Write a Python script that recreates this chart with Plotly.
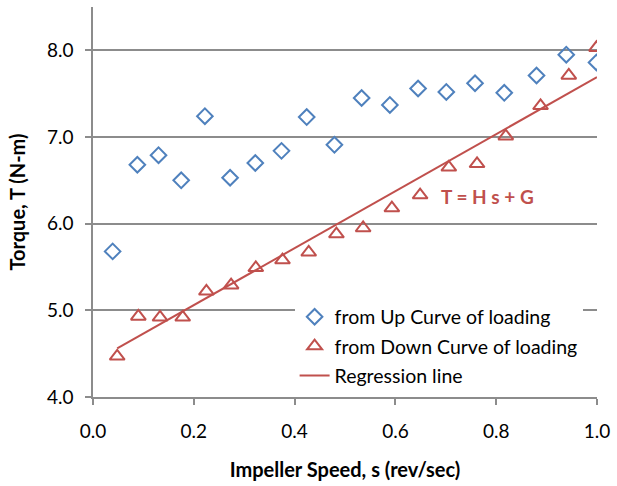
import plotly.graph_objects as go

# Data
up_s = [0.039, 0.088, 0.130, 0.175, 0.222, 0.272, 0.322, 0.374, 0.424, 0.479,
        0.533, 0.589, 0.645, 0.701, 0.758, 0.816, 0.880, 0.939, 0.999]
up_T = [5.68, 6.68, 6.79, 6.50, 7.24, 6.53, 6.70, 6.84, 7.23, 6.91,
        7.45, 7.37, 7.56, 7.52, 7.62, 7.51, 7.71, 7.95, 7.86]

down_s = [0.048, 0.090, 0.133, 0.178, 0.225, 0.274, 0.323, 0.376, 0.428, 0.483,
          0.536, 0.593, 0.649, 0.706, 0.762, 0.819, 0.888, 0.944, 0.999]
down_T = [4.47, 4.93, 4.92, 4.92, 5.22, 5.29, 5.49, 5.58, 5.67, 5.88,
          5.95, 6.18, 6.33, 6.65, 6.69, 7.01, 7.36, 7.71, 8.03]

reg_s = [0.048, 1.0]
reg_T = [4.56, 7.69]

x_ticks = [0.0, 0.2, 0.4, 0.6, 0.8, 1.0]
y_ticks = [4.0, 5.0, 6.0, 7.0, 8.0]

BLUE = "#4F81BD"
RED = "#C0504D"
GRID = "#8C8C8C"
FONT = "Lato"

fig = go.Figure()
fig.add_trace(go.Scatter(
    x=up_s, y=up_T, mode="markers", name="from Up Curve of loading",
    legendgroup="a",
    marker=dict(symbol="diamond-open", size=12, color=BLUE, line=dict(width=2, color=BLUE)),
))
fig.add_trace(go.Scatter(
    x=down_s, y=down_T, mode="markers", name="from Down Curve of loading",
    legendgroup="b",
    marker=dict(symbol="triangle-up-open", size=13, color=RED, line=dict(width=2, color=RED)),
))
fig.add_trace(go.Scatter(
    x=reg_s, y=reg_T, mode="lines", name="Regression line",
    legendgroup="c",
    line=dict(color=RED, width=2),
))

fig.add_annotation(
    x=0.687, y=6.31, xref="x", yref="y", text="<b>T = H s + G</b>",
    showarrow=False, xanchor="left", yanchor="middle",
    font=dict(family=FONT, size=19, color=RED),
)

fig.update_layout(
    width=617, height=486,
    margin=dict(l=93, r=15, t=7, b=89),
    paper_bgcolor="white", plot_bgcolor="white",
    font=dict(family=FONT, size=19, color="black"),
    showlegend=True,
    legend=dict(
        x=0.40, y=0.255, xanchor="left", yanchor="top",
        bgcolor="white", borderwidth=0,
        traceorder="grouped", tracegroupgap=1,
        font=dict(family=FONT, size=19.5, color="black"),
    ),
    xaxis=dict(
        range=[0, 1], tickvals=x_ticks, tickformat=".1f",
        showgrid=False, zeroline=False,
        showline=True, linecolor=GRID, linewidth=1.5,
        ticks="outside", ticklen=6, tickcolor=GRID, tickwidth=1.5,
        ticklabelstandoff=10,
        tickfont=dict(family=FONT, size=19),
        title=dict(text="<b>Impeller Speed, s (rev/sec)</b>", standoff=22,
                   font=dict(family=FONT, size=20)),
    ),
    yaxis=dict(
        range=[4, 8.5], tickvals=y_ticks, tickformat=".1f",
        showgrid=True, gridcolor=GRID, gridwidth=1.5, zeroline=False,
        showline=True, linecolor=GRID, linewidth=1.5,
        ticks="outside", ticklen=6, tickcolor=GRID, tickwidth=1.5,
        ticklabelstandoff=8,
        tickfont=dict(family=FONT, size=19),
        title=dict(text="<b>Torque, T (N-m)</b>", standoff=16,
                   font=dict(family=FONT, size=20)),
    ),
)

fig.write_html("out.html")
